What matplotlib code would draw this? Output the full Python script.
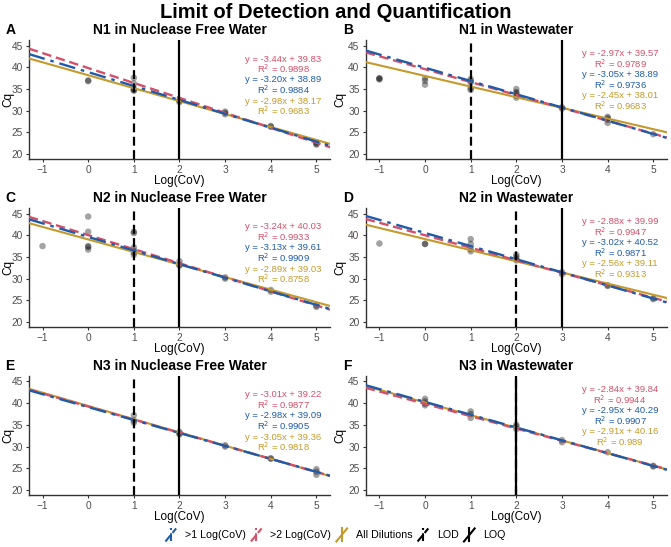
import matplotlib
matplotlib.use('Agg')
import matplotlib.pyplot as plt
from matplotlib.lines import Line2D
from matplotlib.legend_handler import HandlerBase

plt.rcParams['font.family'] = ['Liberation Sans', 'DejaVu Sans']

# ---------------- data ----------------
titles = ["N1 in Nuclease Free Water", "N1 in Wastewater",
          "N2 in Nuclease Free Water", "N2 in Wastewater",
          "N3 in Nuclease Free Water", "N3 in Wastewater"]
letters = ["A", "B", "C", "D", "E", "F"]
lod = [1, 1, 1, 2, 1, 2]
loq = [2, 3, 2, 3, 2, 2]

a_x = [0, 0, 1, 1, 1, 1, 1, 2, 2, 2, 3, 3, 3, 4, 4, 5, 5, 5]
a_y = [36.8, 37.0, 37.6, 36.3, 35.0, 34.6, 34.8, 32.5, 32.0, 32.3, 29.8, 29.5, 29.2, 26.3, 26.5, 22.2, 22.7, 22.4]
b_x = [-1, -1, -1, 0, 0, 0, 1, 1, 1, 1, 1, 2, 2, 2, 2, 2, 3, 3, 4, 4, 4, 4, 5]
b_y = [37.5, 37.2, 37.4, 37.5, 36.0, 36.9, 37.3, 36.5, 35.2, 34.8, 36.8, 35.0, 34.3, 33.5, 33.0, 34.0,
       30.8, 30.5, 28.6, 27.9, 27.2, 28.3, 24.6]
c_x = [-1, 0, 0, 0, 0, 0, 1, 1, 1, 1, 1, 1, 2, 2, 2, 3, 3, 4, 4, 5, 5]
c_y = [37.5, 44.3, 40.8, 37.5, 37.3, 36.7, 40.8, 40.5, 37.2, 36.0, 35.5, 36.5, 34.0, 33.2, 33.0,
       30.3, 30.0, 27.4, 27.0, 23.8, 23.5]
d_x = [-1, 0, 0, 1, 1, 1, 1, 2, 2, 2, 2, 3, 3, 4, 4, 5, 5]
d_y = [38.1, 38.0, 38.0, 39.1, 38.0, 36.8, 36.3, 35.5, 35.0, 34.5, 34.2, 31.5, 31.0, 28.5, 28.3, 25.5, 25.3]
e_x = [1, 1, 1, 2, 2, 2, 3, 3, 4, 4, 5, 5, 5]
e_y = [37.2, 36.0, 35.5, 33.4, 32.8, 33.0, 30.3, 30.0, 27.3, 27.2, 24.8, 24.2, 23.5]
f_x = [0, 0, 0, 0, 1, 1, 1, 2, 2, 2, 3, 3, 4, 5, 5]
f_y = [41.0, 40.4, 39.5, 39.9, 38.1, 37.5, 36.6, 34.6, 34.0, 35.0, 31.5, 31.0, 28.7, 25.6, 25.4]
pts_x = [a_x, b_x, c_x, d_x, e_x, f_x]
pts_y = [a_y, b_y, c_y, d_y, e_y, f_y]

# fitted lines (as drawn)
slope_gt2 = [-3.44, -2.97, -3.24, -2.88, -3.01, -2.84]
int_gt2 = [39.83, 39.57, 40.03, 39.99, 39.22, 39.84]
slope_gt1 = [-3.20, -3.05, -3.13, -3.02, -2.98, -2.95]
int_gt1 = [38.89, 39.90, 39.61, 40.52, 39.09, 40.29]
slope_all = [-2.98, -2.45, -2.89, -2.56, -3.05, -2.91]
int_all = [38.17, 38.01, 39.03, 39.11, 39.36, 40.16]

# annotation texts
eq_gt2 = ["y = -3.44x + 39.83", "y = -2.97x + 39.57", "y = -3.24x + 40.03",
          "y = -2.88x + 39.99", "y = -3.01x + 39.22", "y = -2.84x + 39.84"]
r2_gt2 = ["0.9898", "0.9789", "0.9933", "0.9947", "0.9877", "0.9944"]
eq_gt1 = ["y = -3.20x + 38.89", "y = -3.05x + 38.89", "y = -3.13x + 39.61",
          "y = -3.02x + 40.52", "y = -2.98x + 39.09", "y = -2.95x + 40.29"]
r2_gt1 = ["0.9884", "0.9736", "0.9909", "0.9871", "0.9905", "0.9907"]
eq_all = ["y = -2.98x + 38.17", "y = -2.45x + 38.01", "y = -2.89x + 39.03",
          "y = -2.56x + 39.11", "y = -3.05x + 39.36", "y = -2.91x + 40.16"]
r2_all = ["0.9683", "0.9683", "0.8758", "0.9313", "0.9818", "0.989"]

x_ticks = [-1, 0, 1, 2, 3, 4, 5]
y_ticks = [20, 25, 30, 35, 40, 45]

# ---------------- style ----------------
RED = "#D4506A"
BLUE = "#1F5BA8"
GOLD = "#C49A2C"
dash_blue = (0, (7, 2.5, 1.5, 2.5))
dash_red = (0, (4, 2))
dash_lod = (0, (4, 2))

fig = plt.figure(figsize=(6.71, 5.47), dpi=100)
fig.text(0.5, 0.978, "Limit of Detection and Quantification", ha="center", va="center",
         fontsize=14.5, fontweight="bold")

lefts = [0.043, 0.545]
bottoms = [0.709, 0.402, 0.095]
W, H = 0.449, 0.218

text_y_left = [41.9, 39.6, 37.1, 34.75, 32.2, 29.9]
text_y_right = [43.2, 40.9, 38.3, 36.0, 33.4, 31.1]

for i in range(6):
    row, col = divmod(i, 2)
    ax = fig.add_axes([lefts[col], bottoms[row], W, H])
    ax.set_xlim(-1.3, 5.3)
    ax.set_ylim(18.85, 46.3)
    ax.scatter(pts_x[i], pts_y[i], s=22, color="black", alpha=0.36, edgecolors="none", zorder=2)
    ax.axline((0, int_all[i]), slope=slope_all[i], color=GOLD, lw=1.5, zorder=3)
    ax.axline((0, int_gt1[i]), slope=slope_gt1[i], color=BLUE, lw=1.7, linestyle=dash_blue, zorder=4)
    ax.axline((0, int_gt2[i]), slope=slope_gt2[i], color=RED, lw=1.7, linestyle=dash_red, zorder=3.5)
    ax.axvline(lod[i], color="black", lw=1.6, linestyle=dash_lod, zorder=5)
    ax.axvline(loq[i], color="black", lw=1.6, zorder=5)

    ty = text_y_left if col == 0 else text_y_right
    tx = 4.27
    fs = 6.8
    ax.text(tx, ty[0], eq_gt2[i], color=RED, ha="center", va="center", fontsize=fs)
    ax.text(tx, ty[1], "R$^2$ = " + r2_gt2[i], color=RED, ha="center", va="center", fontsize=fs)
    ax.text(tx, ty[2], eq_gt1[i], color=BLUE, ha="center", va="center", fontsize=fs)
    ax.text(tx, ty[3], "R$^2$ = " + r2_gt1[i], color=BLUE, ha="center", va="center", fontsize=fs)
    ax.text(tx, ty[4], eq_all[i], color=GOLD, ha="center", va="center", fontsize=fs)
    ax.text(tx, ty[5], "R$^2$ = " + r2_all[i], color=GOLD, ha="center", va="center", fontsize=fs)

    ax.set_xticks(x_ticks)
    ax.set_yticks(y_ticks)
    ax.tick_params(labelsize=7.3, labelcolor="#4D4D4D", color="#333333", length=2.5, width=0.8, pad=2)
    for s in ["top", "right"]:
        ax.spines[s].set_visible(False)
    for s in ["left", "bottom"]:
        ax.spines[s].set_color("#333333")
        ax.spines[s].set_linewidth(1.0)
    ax.set_xlabel("Log(CoV)", fontsize=8.5, labelpad=0)
    ax.set_ylabel("Cq", fontsize=8.5)
    ax.yaxis.set_label_coords(-0.047 if col == 0 else -0.063, 0.5)
    ax.set_title(titles[i], fontsize=10, fontweight="bold", pad=4)
    fig.text(lefts[col] - 0.035 if col == 0 else lefts[col] - 0.034, bottoms[row] + H + 0.018,
             letters[i], fontsize=10, fontweight="bold", ha="left", va="center")


class KeyHandler(HandlerBase):
    def create_artists(self, legend, orig_handle, xdescent, ydescent, width, height, fontsize, trans):
        x0, y0 = -xdescent, -ydescent
        kw = dict(color=orig_handle.get_color(), linestyle=orig_handle.get_linestyle(),
                  lw=orig_handle.get_linewidth(), transform=trans)
        d = Line2D([x0, x0 + width], [y0, y0 + height], **kw)
        v = Line2D([x0 + width / 2, x0 + width / 2], [y0, y0 + height], **kw)
        return [d, v]


handles = [Line2D([], [], color=BLUE, lw=1.5, linestyle=dash_blue),
           Line2D([], [], color=RED, lw=1.5, linestyle=dash_red),
           Line2D([], [], color=GOLD, lw=1.5),
           Line2D([], [], color="black", lw=1.5, linestyle=dash_lod),
           Line2D([], [], color="black", lw=1.5)]
labels = [">1 Log(CoV)", ">2 Log(CoV)", "All Dilutions", "LOD", "LOQ"]
fig.legend(handles, labels, loc="center", bbox_to_anchor=(0.5, 0.022), ncol=5, frameon=False,
           fontsize=7.7, handler_map={Line2D: KeyHandler()}, handlelength=1.0, handleheight=1.5,
           columnspacing=0.5, handletextpad=0.8)

fig.savefig("out.png", dpi=100)
